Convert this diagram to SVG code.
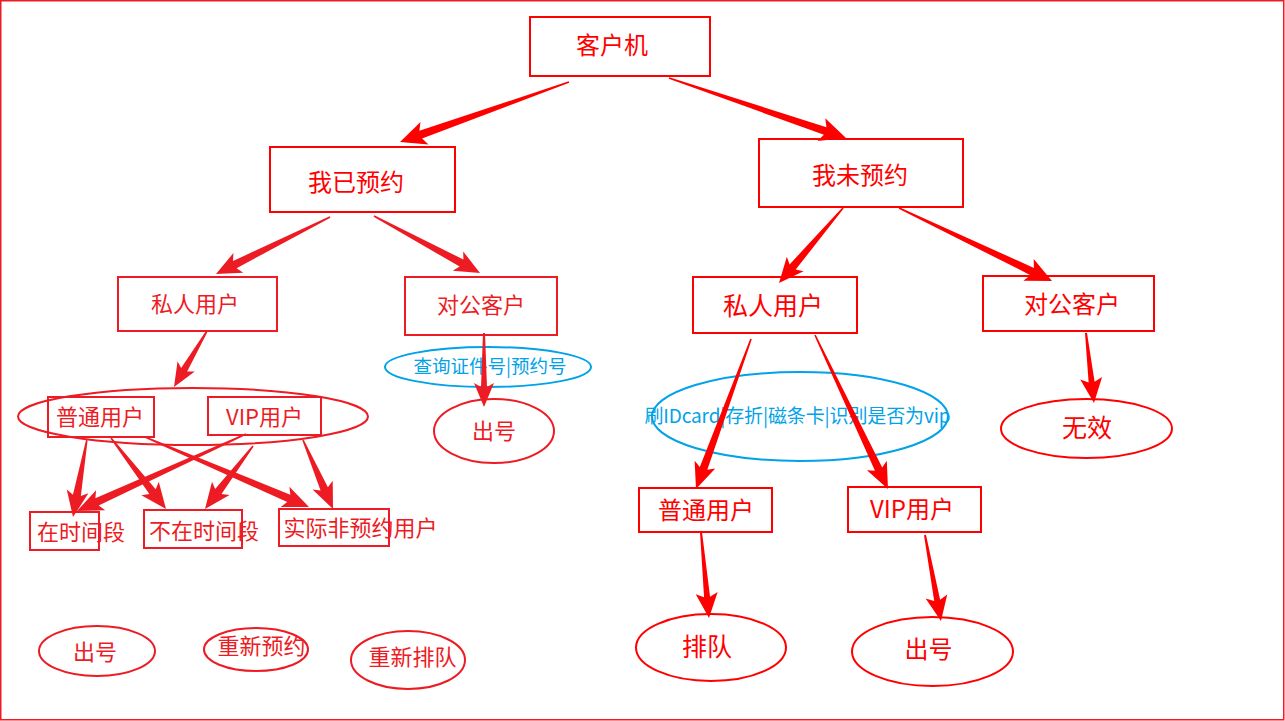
<svg xmlns="http://www.w3.org/2000/svg" width="1285" height="721" viewBox="0 0 1285 721">
<style>
text{font-family:"Noto Sans CJK SC","Liberation Sans",sans-serif;text-anchor:middle}
.r{fill:none;stroke:#FF0000;stroke-width:2}
.c{fill:none;stroke:#ED1C24;stroke-width:2}
.b{fill:none;stroke:#00A2E8;stroke-width:2}
.tr{fill:#FF0000}
.tc{fill:#ED1C24}
.tb{fill:#00A2E8}
.ar{fill:#FF0000}
.ac{fill:#ED1C24}
</style>
<rect x="0.75" y="0.75" width="1283" height="719" fill="#FFFFFF" stroke="#ED1C24" stroke-width="1.5"/>

<g id="n-client"><rect class="r" x="530" y="17" width="180" height="59"/><text class="tr" x="612" y="54" font-size="24">客户机</text></g>
<g id="n-booked"><rect class="r" x="270" y="147" width="185" height="65"/><text class="tr" x="356" y="191" font-size="24">我已预约</text></g>
<g id="n-unbooked"><rect class="r" x="759" y="139" width="204" height="68"/><text class="tr" x="860" y="184" font-size="24">我未预约</text></g>

<g id="n-private-l"><rect class="c" x="118" y="277" width="159" height="54"/><text class="tc" x="195" y="312" font-size="22">私人用户</text></g>
<g id="n-corp-l"><rect class="c" x="405" y="277" width="152" height="58"/><text class="tc" x="481" y="313" font-size="22">对公客户</text></g>
<g id="n-query"><ellipse class="b" cx="488" cy="367" rx="103" ry="20"/><text class="tb" x="490" y="373" font-size="18.5">查询证件号|预约号</text></g>
<g id="n-out-mid"><ellipse class="c" cx="494" cy="431" rx="60" ry="32"/><text class="tc" x="494" y="439" font-size="22">出号</text></g>

<g id="n-group-l"><ellipse class="c" cx="193" cy="416.5" rx="175" ry="28.5"/></g>
<g id="n-normal-l"><rect class="c" x="48" y="397" width="106" height="40"/><text class="tc" x="100" y="425" font-size="22">普通用户</text></g>
<g id="n-vip-l"><rect class="c" x="208" y="397" width="113" height="38"/><text class="tc" x="264.5" y="425" font-size="22">VIP用户</text></g>
<g id="n-intime"><rect class="c" x="30" y="512" width="69" height="38"/><text class="tc" x="81" y="540" font-size="22">在时间段</text></g>
<g id="n-notintime"><rect class="c" x="144" y="510" width="98" height="38"/><text class="tc" x="204" y="539" font-size="22">不在时间段</text></g>
<g id="n-nonbooked"><rect class="c" x="279" y="509" width="110" height="37"/><text class="tc" x="360.5" y="536" font-size="22">实际非预约用户</text></g>
<g id="n-out-bl"><ellipse class="c" cx="97" cy="651" rx="58" ry="25"/><text class="tc" x="95" y="660" font-size="22">出号</text></g>
<g id="n-rebook"><ellipse class="c" cx="256" cy="649.5" rx="52" ry="21.5"/><text class="tc" x="261.5" y="654" font-size="22">重新预约</text></g>
<g id="n-requeue"><ellipse class="c" cx="408" cy="660" rx="57" ry="29"/><text class="tc" x="412.5" y="665" font-size="22">重新排队</text></g>

<g id="n-private-r"><rect class="r" x="693" y="277" width="164" height="56"/><text class="tr" x="773" y="315" font-size="25">私人用户</text></g>
<g id="n-corp-r"><rect class="r" x="983" y="276" width="171" height="55"/><text class="tr" x="1072" y="313" font-size="24">对公客户</text></g>
<g id="n-swipe"><ellipse class="b" cx="800" cy="416.5" rx="148" ry="44.5"/><text class="tb" x="797.5" y="423" font-size="19" textLength="306" lengthAdjust="spacing">刷IDcard|存折|磁条卡|识别是否为vip</text></g>
<g id="n-invalid"><ellipse class="r" cx="1086.5" cy="428.5" rx="85.5" ry="29.5"/><text class="tr" x="1087" y="437" font-size="25">无效</text></g>
<g id="n-normal-r"><rect class="r" x="639" y="488" width="133" height="44"/><text class="tr" x="706" y="519" font-size="24">普通用户</text></g>
<g id="n-vip-r"><rect class="r" x="848" y="487" width="133" height="45"/><text class="tr" x="912" y="518" font-size="24">VIP用户</text></g>
<g id="n-queue"><ellipse class="r" cx="711" cy="647.5" rx="75" ry="33.5"/><text class="tr" x="707" y="656" font-size="25">排队</text></g>
<g id="n-out-r"><ellipse class="r" cx="932.5" cy="651.5" rx="80.5" ry="34.5"/><text class="tr" x="928.5" y="658" font-size="24">出号</text></g>

<g id="connectors">
<polygon class="ar" transform="translate(400 142) rotate(160.45)" points="-179.3,-0.8 -22,-4 -26,-12 0,0 -26,12 -22,4 -179.3,0.8"/>
<polygon class="ar" transform="translate(846 138) rotate(18.73)" points="-186.9,-0.8 -22,-4 -26,-12 0,0 -26,12 -22,4 -186.9,0.8"/>
<polygon class="ac" transform="translate(216 274) rotate(153.43)" points="-127.5,-0.8 -21,-4 -25,-11 0,0 -25,11 -21,4 -127.5,0.8"/>
<polygon class="ac" transform="translate(480 273) rotate(28.27)" points="-120.4,-0.8 -21,-4 -25,-11 0,0 -25,11 -21,4 -120.4,0.8"/>
<polygon class="ac" transform="translate(174 387) rotate(120.51)" points="-65,-0.8 -20,-3.5 -24,-10 0,0 -24,10 -20,3.5 -65,0.8"/>
<polygon class="ac" transform="translate(484 407) rotate(90)" points="-74,-1 -20,-3 -24,-10 0,0 -24,10 -20,3 -74,1"/>
<polygon class="ac" transform="translate(73 517) rotate(100.18)" points="-78.2,-0.8 -22,-4 -26,-11 0,0 -26,11 -22,4 -78.2,0.8"/>
<polygon class="ac" transform="translate(166 509) rotate(52.24)" points="-89.8,-0.8 -22,-4 -26,-11 0,0 -26,11 -22,4 -89.8,0.8"/>
<polygon class="ac" transform="translate(309 507) rotate(23.11)" points="-178.3,-0.8 -22,-4 -26,-11 0,0 -26,11 -22,4 -178.3,0.8"/>
<polygon class="ac" transform="translate(77 511) rotate(155.51)" points="-185.7,-0.8 -22,-4 -26,-11 0,0 -26,11 -22,4 -185.7,0.8"/>
<polygon class="ac" transform="translate(205 509) rotate(127.31)" points="-79.2,-0.8 -22,-4 -26,-11 0,0 -26,11 -22,4 -79.2,0.8"/>
<polygon class="ac" transform="translate(333 509) rotate(66.5)" points="-75.2,-0.8 -22,-4 -26,-11 0,0 -26,11 -22,4 -75.2,0.8"/>
<polygon class="ar" transform="translate(779 283) rotate(130.48)" points="-98.6,-0.8 -21,-4 -25,-11 0,0 -25,11 -21,4 -98.6,0.8"/>
<polygon class="ar" transform="translate(1052 281) rotate(25.51)" points="-169.5,-0.8 -22,-4 -26,-12 0,0 -26,12 -22,4 -169.5,0.8"/>
<polygon class="ar" transform="translate(696 489) rotate(110.14)" points="-159.8,-0.8 -22,-4 -26,-11 0,0 -26,11 -22,4 -159.8,0.8"/>
<polygon class="ar" transform="translate(888 489) rotate(64.64)" points="-170.4,-0.8 -22,-4 -26,-11 0,0 -26,11 -22,4 -170.4,0.8"/>
<polygon class="ar" transform="translate(1094 403) rotate(83.48)" points="-70.5,-1 -21,-3 -25,-11 0,0 -25,11 -21,3 -70.5,1"/>
<polygon class="ar" transform="translate(709 618) rotate(84.69)" points="-86.4,-1 -21,-3 -25,-11 0,0 -25,11 -21,3 -86.4,1"/>
<polygon class="ar" transform="translate(941 621) rotate(79.46)" points="-87.5,-1 -21,-3 -25,-11 0,0 -25,11 -21,3 -87.5,1"/>
</g>
</svg>
